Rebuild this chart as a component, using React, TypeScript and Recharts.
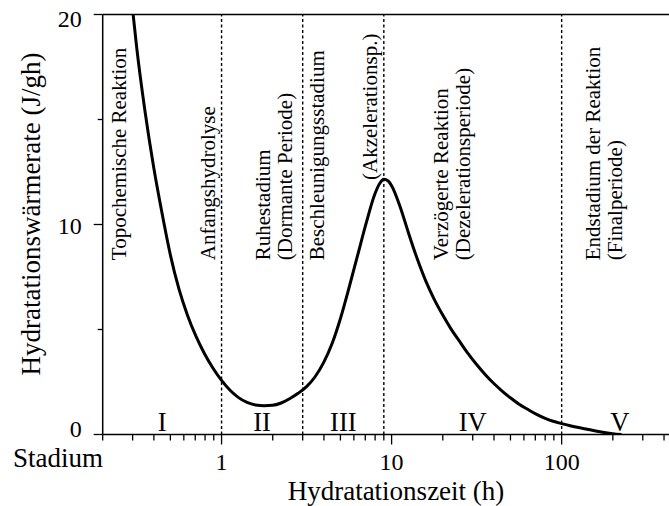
import React from 'react';
import {
  LineChart,
  Line,
  XAxis,
  YAxis,
  ReferenceLine,
  ReferenceDot,
  Customized,
} from 'recharts';

// Heat-flow curve of cement hydration (time in h, rate in J/gh)
const hours = [
  0.302, 0.316, 0.355, 0.398, 0.447, 0.501, 0.562, 0.631, 0.708, 0.794, 0.891,
  1.0, 1.122, 1.259, 1.413, 1.585, 1.778, 1.995, 2.239, 2.512, 2.818, 3.162,
  3.548, 3.981, 4.467, 5.012, 5.623, 6.31, 7.079, 7.943, 8.511, 8.995, 9.55,
  10.0, 11.22, 12.59, 14.13, 15.85, 17.78, 19.95, 22.39, 25.12, 28.18, 31.62,
  35.48, 39.81, 44.67, 50.12, 56.23, 63.1, 70.79, 79.43, 89.13, 100, 112.2,
  125.9, 141.3, 158.5, 177.8, 199.5, 225,
];
const heatRate = [
  20, 18.52, 15.37, 12.77, 10.52, 8.52, 6.92, 5.67, 4.67, 3.845, 3.155,
  2.575, 2.105, 1.755, 1.525, 1.405, 1.37, 1.39, 1.5, 1.7, 1.96, 2.28,
  2.75, 3.42, 4.33, 5.55, 7.0, 8.53, 10.05, 11.42, 11.95, 12.15, 12.07,
  11.85, 10.85, 9.58, 8.38, 7.33, 6.45, 5.7, 5.02, 4.43, 3.85, 3.33,
  2.86, 2.44, 2.07, 1.74, 1.44, 1.2, 0.97, 0.78, 0.63, 0.52, 0.42,
  0.33, 0.25, 0.17, 0.1, 0.04, 0.0,
];

// Stage boundaries and stage numerals
const stageBounds = [1, 3, 9, 100];
const stageNames = ['I', 'II', 'III', 'IV', 'V'];
const stageCenters = [0.447, 1.73, 5.2, 30, 220];

// Phase descriptions (rotated), anchored at hour / rate
const noteTexts = [
  ['Topochemische Reaktion'],
  ['Anfangshydrolyse'],
  ['Ruhestadium', '(Dormante Periode)'],
  ['Beschleunigungsstadium'],
  ['(Akzelerationsp.)'],
  ['Verzögerte Reaktion', '(Dezelerationsperiode)'],
  ['Endstadium der Reaktion', '(Finalperiode)'],
];
const noteHours = [0.276, 0.913, 1.92, 4.0, 8.19, 21.4, 168];
const noteRates = [8.3, 8.3, 8.3, 8.3, 12.12, 8.3, 8.3];

// Axis ticks
const xTicks = [
  0.2, 0.3, 0.4, 0.5, 0.6, 0.7, 0.8, 0.9, 1, 2, 3, 4, 5, 6, 7, 8, 9, 10, 20, 30,
  40, 50, 60, 70, 80, 90, 100, 200, 300, 400, 500, 600, 700, 800, 900, 1000,
];
const xLabeled = [1, 10, 100];
const xMajor = [1, 10, 100, 1000];
const yTicks = [0, 5, 10, 15, 20];
const yLabeled = [0, 10, 20];

const SERIF = '"Liberation Serif", "Times New Roman", serif';

const data = hours.map((h, i) => ({ h, q: heatRate[i] }));

function XTick(props: any) {
  const { x, y, payload } = props;
  const v = payload.value;
  const major = xMajor.includes(v);
  return (
    <g>
      <line x1={x} x2={x} y1={y} y2={y + (major ? 10 : 6)} stroke="#000" strokeWidth={1.3} />
      {xLabeled.includes(v) && (
        <text x={x} y={y + 35} textAnchor="middle" fontFamily={SERIF} fontSize={24} fill="#000">
          {v}
        </text>
      )}
    </g>
  );
}

function YTick(props: any) {
  const { x, y, payload } = props;
  const v = payload.value;
  const major = yLabeled.includes(v);
  // end labels are kept inside the frame: top one hangs, bottom one sits
  const shift = v === yTicks[yTicks.length - 1] ? 12 : v === yTicks[0] ? 2.5 : 9;
  return (
    <g>
      <line x1={x - (major ? 9 : 5)} x2={x} y1={y} y2={y} stroke="#000" strokeWidth={1.3} />
      {major && (
        <text x={x - 21} y={y + shift} textAnchor="end" fontFamily={SERIF} fontSize={24} fill="#000">
          {v}
        </text>
      )}
    </g>
  );
}

function NoteText({ cx, cy, lines }: { cx: number; cy: number; lines: string[] }) {
  return (
    <g>
      {lines.map((t, i) => {
        const bx = cx + i * 22;
        return (
          <text
            key={t}
            x={bx}
            y={cy}
            transform={`rotate(-90 ${bx} ${cy})`}
            textAnchor="start"
            fontFamily={SERIF}
            fontSize={21}
            fill="#000"
          >
            {t}
          </text>
        );
      })}
    </g>
  );
}

function StageName({ cx, cy, name }: { cx: number; cy: number; name: string }) {
  return (
    <text x={cx} y={cy - 3.5} textAnchor="middle" fontFamily={SERIF} fontSize={26.5} fill="#000">
      {name}
    </text>
  );
}

function AxisTitles() {
  return (
    <g fontFamily={SERIF} fill="#000">
      <text x={13} y={467} fontSize={27}>
        Stadium
      </text>
      <text x={396} y={500} fontSize={27} textAnchor="middle">
        Hydratationszeit (h)
      </text>
      <text x={40} y={214} fontSize={27} textAnchor="middle" transform="rotate(-90 40 214)">
        Hydratationswärmerate (J/gh)
      </text>
    </g>
  );
}

export default function App() {
  return (
    <div
      style={{
        position: 'absolute',
        left: 0,
        top: 0,
        width: 669,
        height: 506,
        overflow: 'hidden',
        background: '#fff',
      }}
    >
      <LineChart
        width={760}
        height={506}
        data={data}
        margin={{ top: 14.5, right: 28.3, bottom: 0, left: 0 }}
      >
        <XAxis
          dataKey="h"
          type="number"
          scale="log"
          domain={[0.2, 1000]}
          allowDataOverflow
          ticks={xTicks}
          interval={0}
          tickSize={0}
          tickMargin={0}
          tickLine={false}
          tick={<XTick />}
          axisLine={{ stroke: '#000', strokeWidth: 1.5 }}
          height={71.5}
        />
        <YAxis
          type="number"
          domain={[0, 20]}
          allowDataOverflow
          ticks={yTicks}
          interval={0}
          tickSize={0}
          tickMargin={0}
          tickLine={false}
          tick={<YTick />}
          axisLine={{ stroke: '#000', strokeWidth: 1.5 }}
          width={102.7}
        />
        <ReferenceLine y={20} stroke="#000" strokeWidth={1.6} />
        {stageBounds.map((b) => (
          <ReferenceLine key={b} x={b} stroke="#000" strokeWidth={1.4} strokeDasharray="3 2.5" />
        ))}
        <Line
          type="monotone"
          dataKey="q"
          stroke="#000"
          strokeWidth={3}
          dot={false}
          isAnimationActive={false}
        />
        {noteTexts.map((lines, i) => (
          <ReferenceDot
            key={lines[0]}
            x={noteHours[i]}
            y={noteRates[i]}
            r={0}
            ifOverflow="visible"
            shape={(p: any) => <NoteText cx={p.cx} cy={p.cy} lines={lines} />}
          />
        ))}
        {stageNames.map((name, i) => (
          <ReferenceDot
            key={name}
            x={stageCenters[i]}
            y={0}
            r={0}
            ifOverflow="visible"
            shape={(p: any) => <StageName cx={p.cx} cy={p.cy} name={name} />}
          />
        ))}
        <Customized component={AxisTitles} />
      </LineChart>
    </div>
  );
}
